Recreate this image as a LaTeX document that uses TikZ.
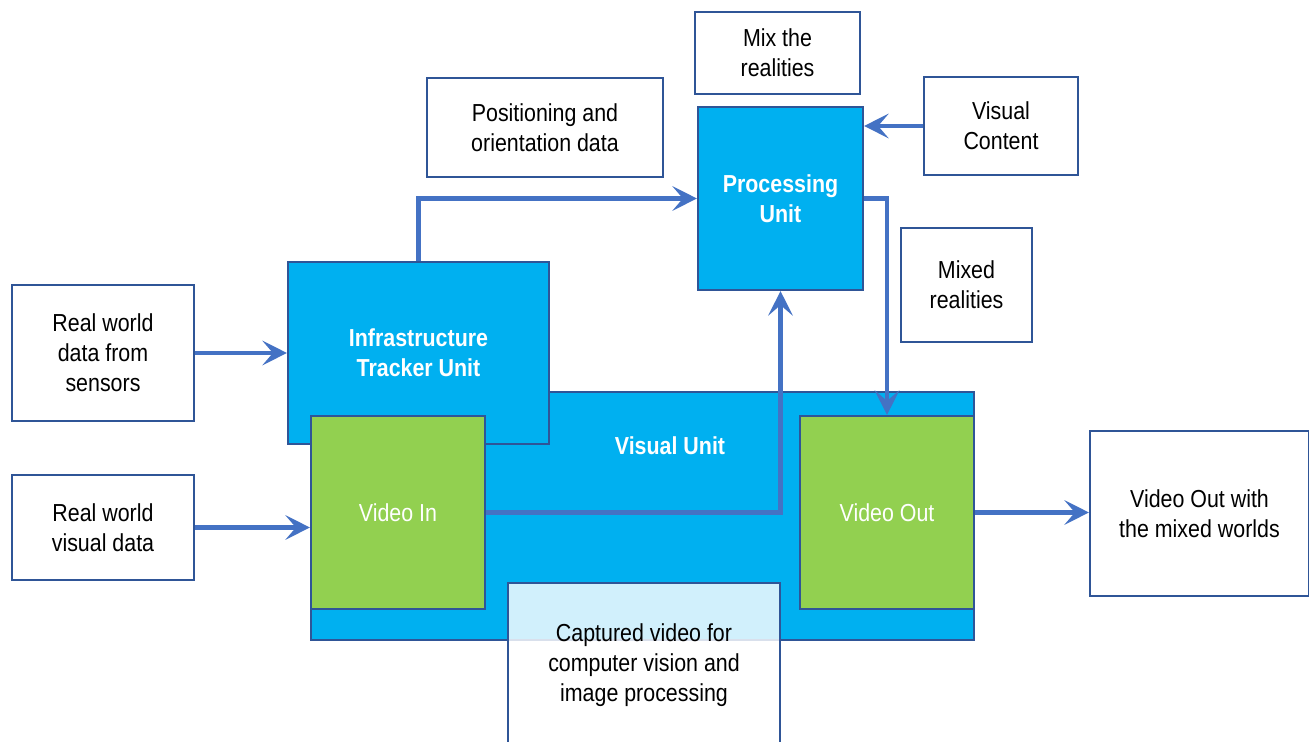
\documentclass[tikz,border=0pt]{standalone}
\usepackage{fontspec}
\setmainfont{Liberation Sans}[FakeStretch=0.87]
\usetikzlibrary{arrows.meta}
\definecolor{unitblue}{HTML}{00B0F0}
\definecolor{unitgreen}{HTML}{92D050}
\definecolor{edgeblue}{HTML}{2F5597}
\definecolor{arrowblue}{HTML}{4472C4}
\tikzset{
  textbox/.style={draw=edgeblue,line width=1.2pt,fill=white,align=center,inner sep=0pt},
  unitbox/.style={textbox,fill=unitblue,text=white,font=\bfseries\fontsize{14}{17}\selectfont},
  videobox/.style={textbox,fill=unitgreen,text=white},
  arr/.style={draw=arrowblue,line width=2.3pt,-{Stealth[length=14pt,width=14pt,inset=6pt]}}
}
\begin{document}
\begin{tikzpicture}[x=0.02cm,y=-0.02cm,every node/.style={font=\fontsize{14}{17}\selectfont}]
    \useasboundingbox (0,0) rectangle (1309,742);
    % boxes
    \node[unitbox,minimum width=13.26cm,minimum height=4.96cm] (visunit) at (642.5,516) {};
    \node[unitbox,minimum width=5.22cm,minimum height=3.64cm] (tracker) at (418.5,353) {Infrastructure\\Tracker Unit};
    \node[text=white,font=\bfseries\fontsize{14}{17}\selectfont] (vulabel) at (670,446) {Visual Unit};
    \node[videobox,minimum width=3.48cm,minimum height=3.86cm] (videoin) at (398,512.5) {Video In};
    \node[videobox,minimum width=3.48cm,minimum height=3.86cm] (videoout) at (887,512.5) {Video Out};
    \node[unitbox,minimum width=3.3cm,minimum height=3.66cm] (proc) at (780.5,198.5) {Processing\\Unit};
    \node[textbox,minimum width=3.3cm,minimum height=1.64cm] (mix) at (777.5,53) {Mix the\\realities};
    \node[textbox,minimum width=4.72cm,minimum height=1.98cm] (posdata) at (545,127.5) {Positioning and\\orientation data};
    \node[textbox,minimum width=3.08cm,minimum height=1.96cm] (viscont) at (1001,126) {Visual\\Content};
    \node[textbox,minimum width=2.62cm,minimum height=2.28cm] (mixed) at (966.5,285) {Mixed\\realities};
    \node[textbox,minimum width=3.64cm,minimum height=2.72cm] (sensors) at (103,353) {Real world\\data from\\sensors};
    \node[textbox,minimum width=3.64cm,minimum height=2.1cm] (visdata) at (103,527.5) {Real world\\visual data};
    \node[textbox,minimum width=4.38cm,minimum height=3.3cm] (outworld) at (1199.5,513.5) {Video Out with\\the mixed worlds};
    % arrows
    \draw[arr] (sensors) -- (tracker);
    \draw[arr] (visdata.east) -- (visdata.east -| videoin.west);
    \draw[arr] (tracker.north) |- (proc.west);
    \draw[arr] (videoin.east) -| (proc.south);
    \draw[arr] (proc.east) -| (videoout.north);
    \draw[arr] (viscont.west) -- (viscont.west -| proc.east);
    \draw[arr] (videoout.east) -- (videoout.east -| outworld.west);
    % captured video box on top
    \node[textbox,fill opacity=0.82,text opacity=1,minimum width=5.44cm,minimum height=3.28cm] (captured) at (644,665) {Captured video for\\computer vision and\\image processing};
\end{tikzpicture}
\end{document}
